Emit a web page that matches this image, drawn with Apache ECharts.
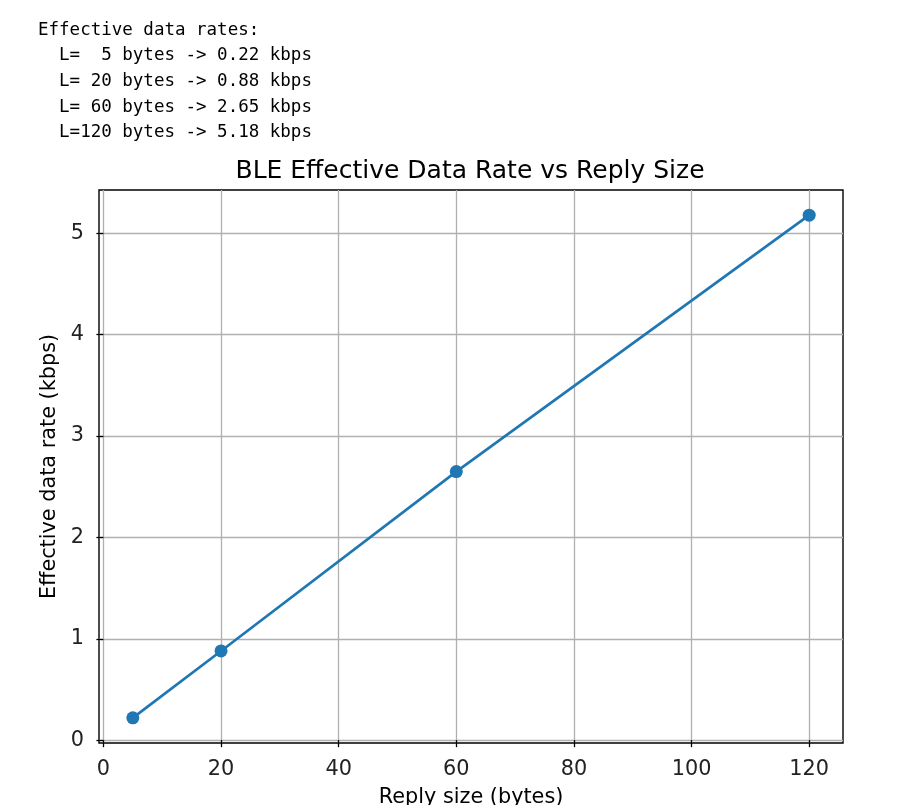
<!DOCTYPE html>
<html><head><meta charset="utf-8">
<script src="https://cdn.jsdelivr.net/npm/echarts@6/dist/echarts.min.js"></script>
<style>
html,body{margin:0;padding:0;background:#fff;}
#c{position:absolute;left:0;top:0;width:922px;height:805px;}
#t{position:absolute;left:38px;top:16.5px;margin:0;font-family:"DejaVu Sans Mono",monospace;font-size:17.5px;line-height:25.7px;color:#000;z-index:2;white-space:pre;}
</style></head>
<body>
<pre id="t"></pre>
<div id="c"></div>
<script>
const sizes = [5, 20, 60, 120];
const rates = [0.22, 0.88, 2.65, 5.18];
const xTicks = [0, 20, 40, 60, 80, 100, 120];
const yTicks = [0, 1, 2, 3, 4, 5];

let lines = ['Effective data rates:'];
sizes.forEach((s, i) => {
  lines.push('  L=' + String(s).padStart(3, ' ') + ' bytes -> ' + rates[i].toFixed(2) + ' kbps');
});
document.getElementById('t').textContent = lines.join('\n');

const chart = echarts.init(document.getElementById('c'));
const font = 'DejaVu Sans';
chart.setOption({
  animation: false,
  title: {
    text: 'BLE Effective Data Rate vs Reply Size',
    left: 465, top: 154, textAlign: 'center',
    textStyle: {fontFamily: font, fontSize: 25, fontWeight: 'normal', color: '#000'}
  },
  grid: {left: 99, top: 190, right: 79, bottom: 62, show: true, borderColor: '#000', borderWidth: 1.4, backgroundColor: 'transparent', outerBoundsMode: 'none', containLabel: false},
  xAxis: {
    type: 'value', min: -0.75, max: 125.75,
    name: 'Reply size (bytes)', nameLocation: 'middle', nameGap: 44,
    nameTextStyle: {fontFamily: font, fontSize: 20.8, color: '#000'},
    axisLine: {show: false},
    axisTick: {show: true, length: 7, inside: false, lineStyle: {color: '#000', width: 1.3}, customValues: xTicks},
    axisLabel: {customValues: xTicks, fontFamily: font, fontSize: 20.8, color: '#222', margin: 16},
    splitLine: {show: true, lineStyle: {color: '#b0b0b0', width: 1.3}}
  },
  yAxis: {
    type: 'value', min: -0.028, max: 5.428,
    name: 'Effective data rate (kbps)', nameLocation: 'middle', nameGap: 39,
    nameTextStyle: {fontFamily: font, fontSize: 20.8, color: '#000'},
    axisLine: {show: false},
    axisTick: {show: true, length: 7, inside: false, lineStyle: {color: '#000', width: 1.3}, customValues: yTicks},
    axisLabel: {customValues: yTicks, fontFamily: font, fontSize: 20.8, color: '#222', margin: 15},
    splitLine: {show: true, lineStyle: {color: '#b0b0b0', width: 1.3}}
  },
  series: [{
    type: 'line',
    data: sizes.map((s, i) => [s, rates[i]]),
    symbol: 'circle', symbolSize: 13,
    lineStyle: {color: '#1f77b4', width: 2.7},
    itemStyle: {color: '#1f77b4'}
  }]
});
</script>
</body></html>
